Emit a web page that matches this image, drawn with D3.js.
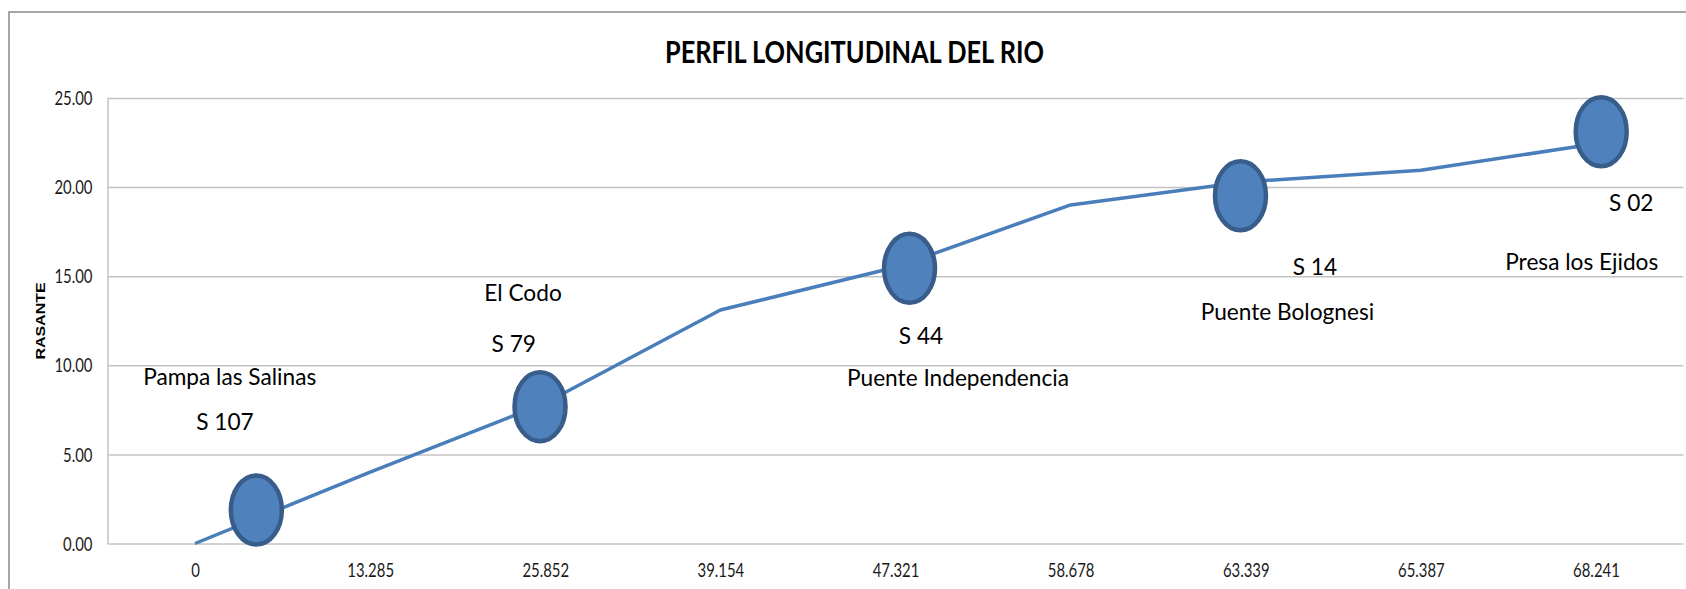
<!DOCTYPE html>
<html>
<head>
<meta charset="utf-8">
<script src="https://cdn.jsdelivr.net/npm/d3@7"></script>
<style>
    body { margin: 0; background: #fff; }
    svg { display: block; }
    text { font-family: Lato, 'Open Sans', sans-serif; fill: #000; }
</style>
</head>
<body>
<div id="container"></div>
<script>
// chart data
const categories = ['0', '13.285', '25.852', '39.154', '47.321', '58.678', '63.339', '65.387', '68.241'];
const rasante = [0, 4.0, 7.88, 13.1, 15.5, 19.0, 20.3, 20.95, 22.43];
const yTicks = [0, 5, 10, 15, 20, 25];

// station markers (x in category index, y in rasante units)
const markerX = [0.35, 1.97, 4.08, 5.97, 8.03];
const markerY = [1.88, 7.68, 15.44, 19.52, 23.11];

// station labels
const labelText = ['Pampa las Salinas', 'S 107', 'El Codo', 'S 79', 'S 44', 'Puente Independencia', 'S 14', 'Puente Bolognesi', 'Presa los Ejidos', 'S 02'];
const labelX = [0.198, 0.171, 1.873, 1.82, 4.146, 4.357, 6.395, 6.238, 7.919, 8.202];
const labelY = [8.89, 6.37, 13.62, 10.76, 11.18, 8.84, 15.07, 12.54, 15.35, 18.68];

// chart dimensions
const width = 1686;
const height = 589;
const plotLeft = 107.5, plotRight = 1683.5, plotTop = 98, plotBottom = 543.5;
const gridColor = '#c3c3c3';

// squeeze text horizontally (source image is compressed sideways)
const squeeze = (sel, k) => sel.each(function() {
    const w = this.getComputedTextLength();
    d3.select(this).attr('textLength', w * k).attr('lengthAdjust', 'spacingAndGlyphs');
});
const fitFactor = (svg, str, size, target) => {
    const t = svg.append('text').style('font-size', size + 'px').text(str);
    const k = target / t.node().getComputedTextLength();
    t.remove();
    return k;
};

const svg = d3.select('#container')
    .append('svg')
    .attr('width', width)
    .attr('height', height);

// chart border
svg.append('rect')
    .attr('x', 9)
    .attr('y', 12)
    .attr('width', width + 20)
    .attr('height', height + 20)
    .style('fill', '#fff')
    .style('stroke', '#8a8a8a')
    .style('stroke-width', 1.5);

// scales
const xScale = d3.scaleLinear()
    .domain([-0.5, categories.length - 0.5])
    .range([plotLeft, plotRight]);

const yScale = d3.scaleLinear()
    .domain([0, 25])
    .range([plotBottom, plotTop]);

// y axis with gridlines
const yAxis = d3.axisLeft(yScale)
    .tickValues(yTicks)
    .tickFormat(d3.format('.2f'))
    .tickSize(-(plotRight - plotLeft))
    .tickSizeOuter(0)
    .tickPadding(15);

const gy = svg.append('g')
    .attr('id', 'y-axis')
    .attr('transform', `translate(${plotLeft}, 0)`)
    .call(yAxis);

gy.select('.domain').style('stroke', gridColor).style('stroke-width', 1.5);
gy.selectAll('.tick line').style('stroke', gridColor).style('stroke-width', 1.5);
gy.selectAll('.tick text')
    .attr('dy', '0.36em')
    .style('font-size', '18.5px')
    .style('fill', '#1a1a1a');

// x axis, labels only
const xAxis = d3.axisBottom(xScale)
    .tickValues(d3.range(categories.length))
    .tickFormat((i) => categories[i])
    .tickSize(0);

const gx = svg.append('g')
    .attr('id', 'x-axis')
    .attr('transform', `translate(0, ${plotBottom})`)
    .call(xAxis);

gx.select('.domain').remove();
gx.selectAll('.tick text')
    .attr('dy', null)
    .attr('y', 33.5)
    .style('font-size', '18.5px')
    .style('fill', '#1a1a1a');

const tickK = fitFactor(svg, '39.154', 18.5, 46.7);
squeeze(gy.selectAll('.tick text'), tickK);
squeeze(gx.selectAll('.tick text'), tickK);

// y axis title
svg.append('text')
    .attr('transform', 'translate(45, 321) scale(0.8, 1) rotate(-90)')
    .attr('text-anchor', 'middle')
    .style('font-family', "'Liberation Sans', Arial, sans-serif")
    .style('font-weight', 'bold')
    .style('font-size', '16px')
    .text('RASANTE');

// chart title
svg.append('text')
    .attr('x', 854.5)
    .attr('y', 62.7)
    .attr('text-anchor', 'middle')
    .attr('textLength', 379)
    .attr('lengthAdjust', 'spacingAndGlyphs')
    .style('font-weight', 'bold')
    .style('font-size', '31px')
    .text('PERFIL LONGITUDINAL DEL RIO');

// profile line
const line = d3.line()
    .x((d, i) => xScale(i))
    .y((d) => yScale(d));

svg.append('path')
    .datum(rasante)
    .attr('d', line)
    .style('fill', 'none')
    .style('stroke', '#4a7ebb')
    .style('stroke-width', 3.5)
    .style('stroke-linejoin', 'round');

// station markers
svg.selectAll('ellipse')
    .data(markerX)
    .enter()
    .append('ellipse')
    .attr('cx', (d) => xScale(d))
    .attr('cy', (d, i) => yScale(markerY[i]))
    .attr('rx', 25.5)
    .attr('ry', 34.5)
    .style('fill', '#4f81bd')
    .style('stroke', '#385d8a')
    .style('stroke-width', 4.5);

// station labels
const labels = svg.selectAll('.station')
    .data(labelText)
    .enter()
    .append('text')
    .attr('class', 'station')
    .attr('x', (d, i) => xScale(labelX[i]))
    .attr('y', (d, i) => yScale(labelY[i]))
    .attr('text-anchor', 'middle')
    .style('font-size', '22.5px')
    .text((d) => d);

const labelK = fitFactor(svg, 'Puente Independencia', 22.5, 222);
squeeze(labels, labelK);
</script>
</body>
</html>
